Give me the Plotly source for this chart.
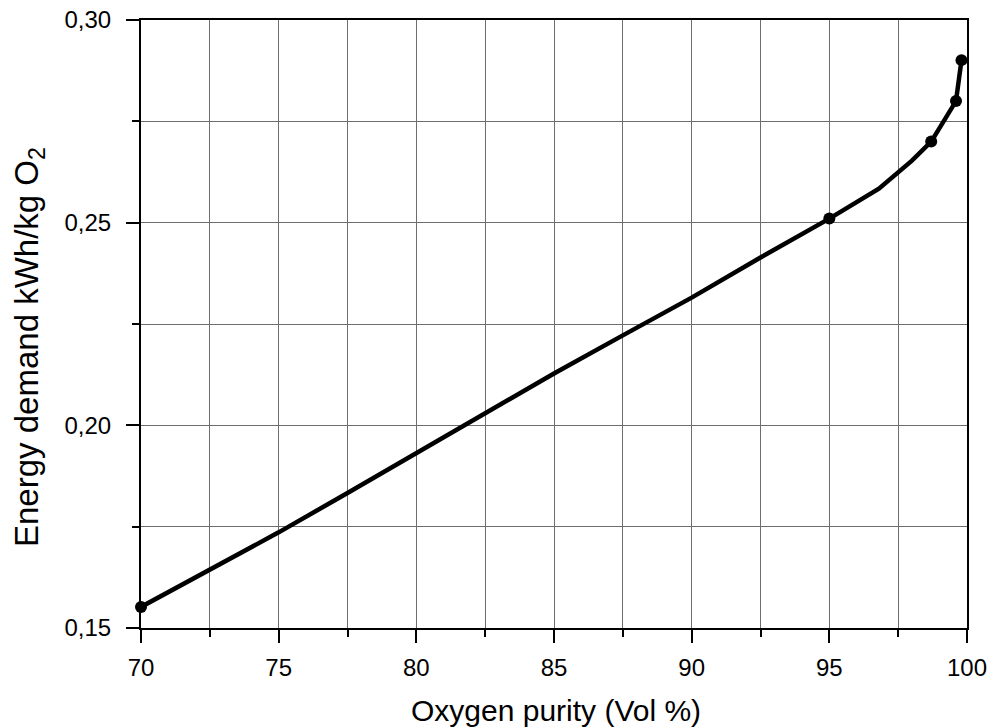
import plotly.graph_objects as go

# Curve
curve_x = [70, 72.5, 75, 77.5, 80, 82.5, 85, 87.5, 90, 92.5, 95, 96.8, 98.0, 98.7, 99.6, 99.8]
curve_y = [0.1552, 0.1643, 0.1736, 0.1833, 0.1931, 0.2030, 0.2128, 0.2222, 0.2315, 0.2414,
           0.2510, 0.2584, 0.2653, 0.2700, 0.2800, 0.2901]

# Measured points (markers)
pts_x = [70, 95, 98.7, 99.6, 99.8]
pts_y = [0.1552, 0.2510, 0.2700, 0.2800, 0.2901]

x_title = "Oxygen purity (Vol %)"
y_title = "Energy demand kWh/kg O<sub>2</sub>"

fig = go.Figure()
fig.add_trace(go.Scatter(x=curve_x, y=curve_y, mode="lines",
                         line=dict(color="black", width=4.5), cliponaxis=False,
                         showlegend=False, hoverinfo="skip"))
fig.add_trace(go.Scatter(x=pts_x, y=pts_y, mode="markers",
                         marker=dict(color="black", size=12), cliponaxis=False,
                         showlegend=False))

font = "Liberation Sans, Arial, sans-serif"
grid_col = "#6e6e6e"

L, R, T, B = 141, 20, 20, 99
W, H = 987, 727
plot_w = W - L - R
plot_h = H - T - B

fig.update_layout(
    width=W, height=H,
    margin=dict(l=L, r=R, t=T, b=B, autoexpand=False),
    paper_bgcolor="white", plot_bgcolor="white",
    separators=",.",
    font=dict(family=font, color="black"),
    xaxis=dict(
        range=[70, 100], tickmode="linear", tick0=70, dtick=5,
        ticks="outside", ticklen=13, tickwidth=2, tickcolor="black",
        showline=True, linecolor="black", linewidth=2, mirror=True,
        showgrid=True, gridcolor=grid_col, gridwidth=1,
        zeroline=False, automargin=False, ticklabelstandoff=4,
        ticklabeloverflow="allow",
        minor=dict(dtick=2.5, ticks="outside", ticklen=7, tickwidth=2, tickcolor="black",
                   showgrid=True, gridcolor=grid_col, gridwidth=1),
        tickfont=dict(size=24, family=font),
    ),
    yaxis=dict(
        range=[0.15, 0.30], tickmode="linear", tick0=0.15, dtick=0.05,
        tickformat=".2f",
        ticks="outside", ticklen=13, tickwidth=2, tickcolor="black",
        showline=True, linecolor="black", linewidth=2, mirror=True,
        showgrid=True, gridcolor=grid_col, gridwidth=1,
        zeroline=False, automargin=False, ticklabelstandoff=10,
        ticklabeloverflow="allow",
        minor=dict(dtick=0.025, ticks="outside", ticklen=7, tickwidth=2, tickcolor="black",
                   showgrid=True, gridcolor=grid_col, gridwidth=1),
        tickfont=dict(size=24, family=font),
    ),
    annotations=[
        dict(text=x_title, xref="paper", yref="paper",
             x=(556 - L) / plot_w, y=(T + plot_h - 711) / plot_h,
             xanchor="center", yanchor="middle", showarrow=False,
             font=dict(size=30, family=font, color="black")),
        dict(text=y_title, xref="paper", yref="paper",
             x=(29 - L) / plot_w, y=(T + plot_h - 347) / plot_h,
             xanchor="center", yanchor="middle", showarrow=False, textangle=-90,
             font=dict(size=33, family=font, color="black")),
    ],
)

fig.write_html("out.html", config={"displayModeBar": False},
               post_script="document.body.style.margin='0';")
